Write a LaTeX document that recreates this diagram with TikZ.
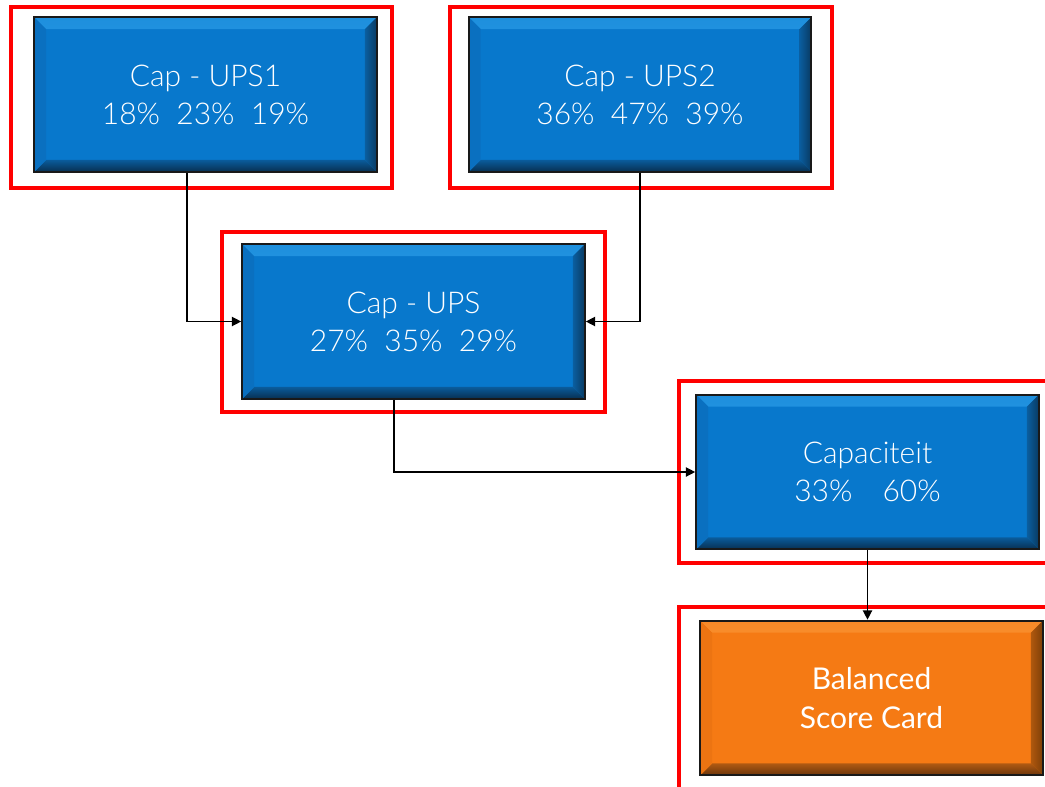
\documentclass[tikz,border=0pt]{standalone}
\usepackage{fontspec}
\setmainfont{Lato}
\newfontfamily\lightfont{Lato Light}
\usetikzlibrary{arrows.meta}
\definecolor{bmain}{HTML}{0878CC}
\definecolor{btopA}{HTML}{1E8FDD}
\definecolor{btopB}{HTML}{38ADF8}
\definecolor{bbotA}{HTML}{0A5C9C}
\definecolor{bbotB}{HTML}{082F50}
\definecolor{brightA}{HTML}{0A5EA0}
\definecolor{brightB}{HTML}{093A62}
\definecolor{bleft}{HTML}{0A70C0}
\definecolor{omain}{HTML}{F57A14}
\definecolor{otopA}{HTML}{F88A28}
\definecolor{otopB}{HTML}{FFA848}
\definecolor{obotA}{HTML}{B05A12}
\definecolor{obotB}{HTML}{6A350C}
\definecolor{orightA}{HTML}{B0580E}
\definecolor{orightB}{HTML}{7E3F08}
\definecolor{oleft}{HTML}{EC7412}
\definecolor{frame}{HTML}{FF0000}
\newcommand{\bevelpics}[7]{%
  \shade[top color=#1, bottom color=#2] (path picture bounding box.north west) -- (path picture bounding box.north east) -- ([shift={(-9pt,-9pt)}]path picture bounding box.north east) -- ([shift={(9pt,-9pt)}]path picture bounding box.north west) -- cycle;
  \shade[top color=#3, bottom color=#4] (path picture bounding box.south west) -- (path picture bounding box.south east) -- ([shift={(-9pt,9pt)}]path picture bounding box.south east) -- ([shift={(9pt,9pt)}]path picture bounding box.south west) -- cycle;
  \shade[left color=#5, right color=#6] (path picture bounding box.north east) -- (path picture bounding box.south east) -- ([shift={(-9pt,9pt)}]path picture bounding box.south east) -- ([shift={(-9pt,-9pt)}]path picture bounding box.north east) -- cycle;
  \fill[#7] (path picture bounding box.north west) -- (path picture bounding box.south west) -- ([shift={(9pt,9pt)}]path picture bounding box.south west) -- ([shift={(9pt,-9pt)}]path picture bounding box.north west) -- cycle;
}
\tikzset{
  box/.style={rectangle, draw=black!90, line width=1.5pt, minimum width=257pt, minimum height=116pt,
    text=white, align=center, font=\lightfont\fontsize{22.5}{28.5}\selectfont},
  bluebox/.style={box, fill=bmain, path picture={\bevelpics{btopA}{btopB}{bbotA}{bbotB}{brightA}{brightB}{bleft}}},
  orangebox/.style={box, fill=omain, font=\fontsize{22.5}{29}\selectfont, path picture={\bevelpics{otopA}{otopB}{obotA}{obotB}{orightA}{orightB}{oleft}}},
  redframe/.style={draw=frame, line width=2.4pt},
  conn/.style={draw=black, line width=1pt, -{Triangle[length=7pt,width=7pt]}}
}
\begin{document}
\begin{tikzpicture}[x=0.75pt,y=-0.75pt]
\useasboundingbox (0,0) rectangle (1045,786);
\clip (0,0) rectangle (1045,786);
\draw[redframe] (11,7) rectangle (392,188);
\draw[redframe] (450,7) rectangle (832,188);
\draw[redframe] (222,232) rectangle (605,412);
\draw[redframe] (679,381) rectangle (1060,563);
\draw[redframe] (679,607) rectangle (1060,800);
\node[bluebox] (ups1) at (205.5,94.5) {Cap - UPS1\\18\%\ \ 23\%\ \ 19\%};
\node[bluebox] (ups2) at (640,94.5) {Cap - UPS2\\36\%\ \ 47\%\ \ 39\%};
\node[bluebox] (ups) at (413.5,321.5) {Cap - UPS\\27\%\ \ 35\%\ \ 29\%};
\node[bluebox] (cap) at (867.5,472) {Capaciteit\\33\%\quad 60\%};
\node[orangebox] (bsc) at (871.5,698) {Balanced\\Score Card};
\coordinate (c1) at (187,0);
\coordinate (c3) at (394,0);
\draw[conn] (ups1.south -| c1) |- (ups.west);
\draw[conn] (ups2.south) |- (ups.east);
\draw[conn] (ups.south -| c3) |- (cap.west);
\draw[conn] (cap.south) -- (cap.south |- bsc.north);
\end{tikzpicture}
\end{document}
